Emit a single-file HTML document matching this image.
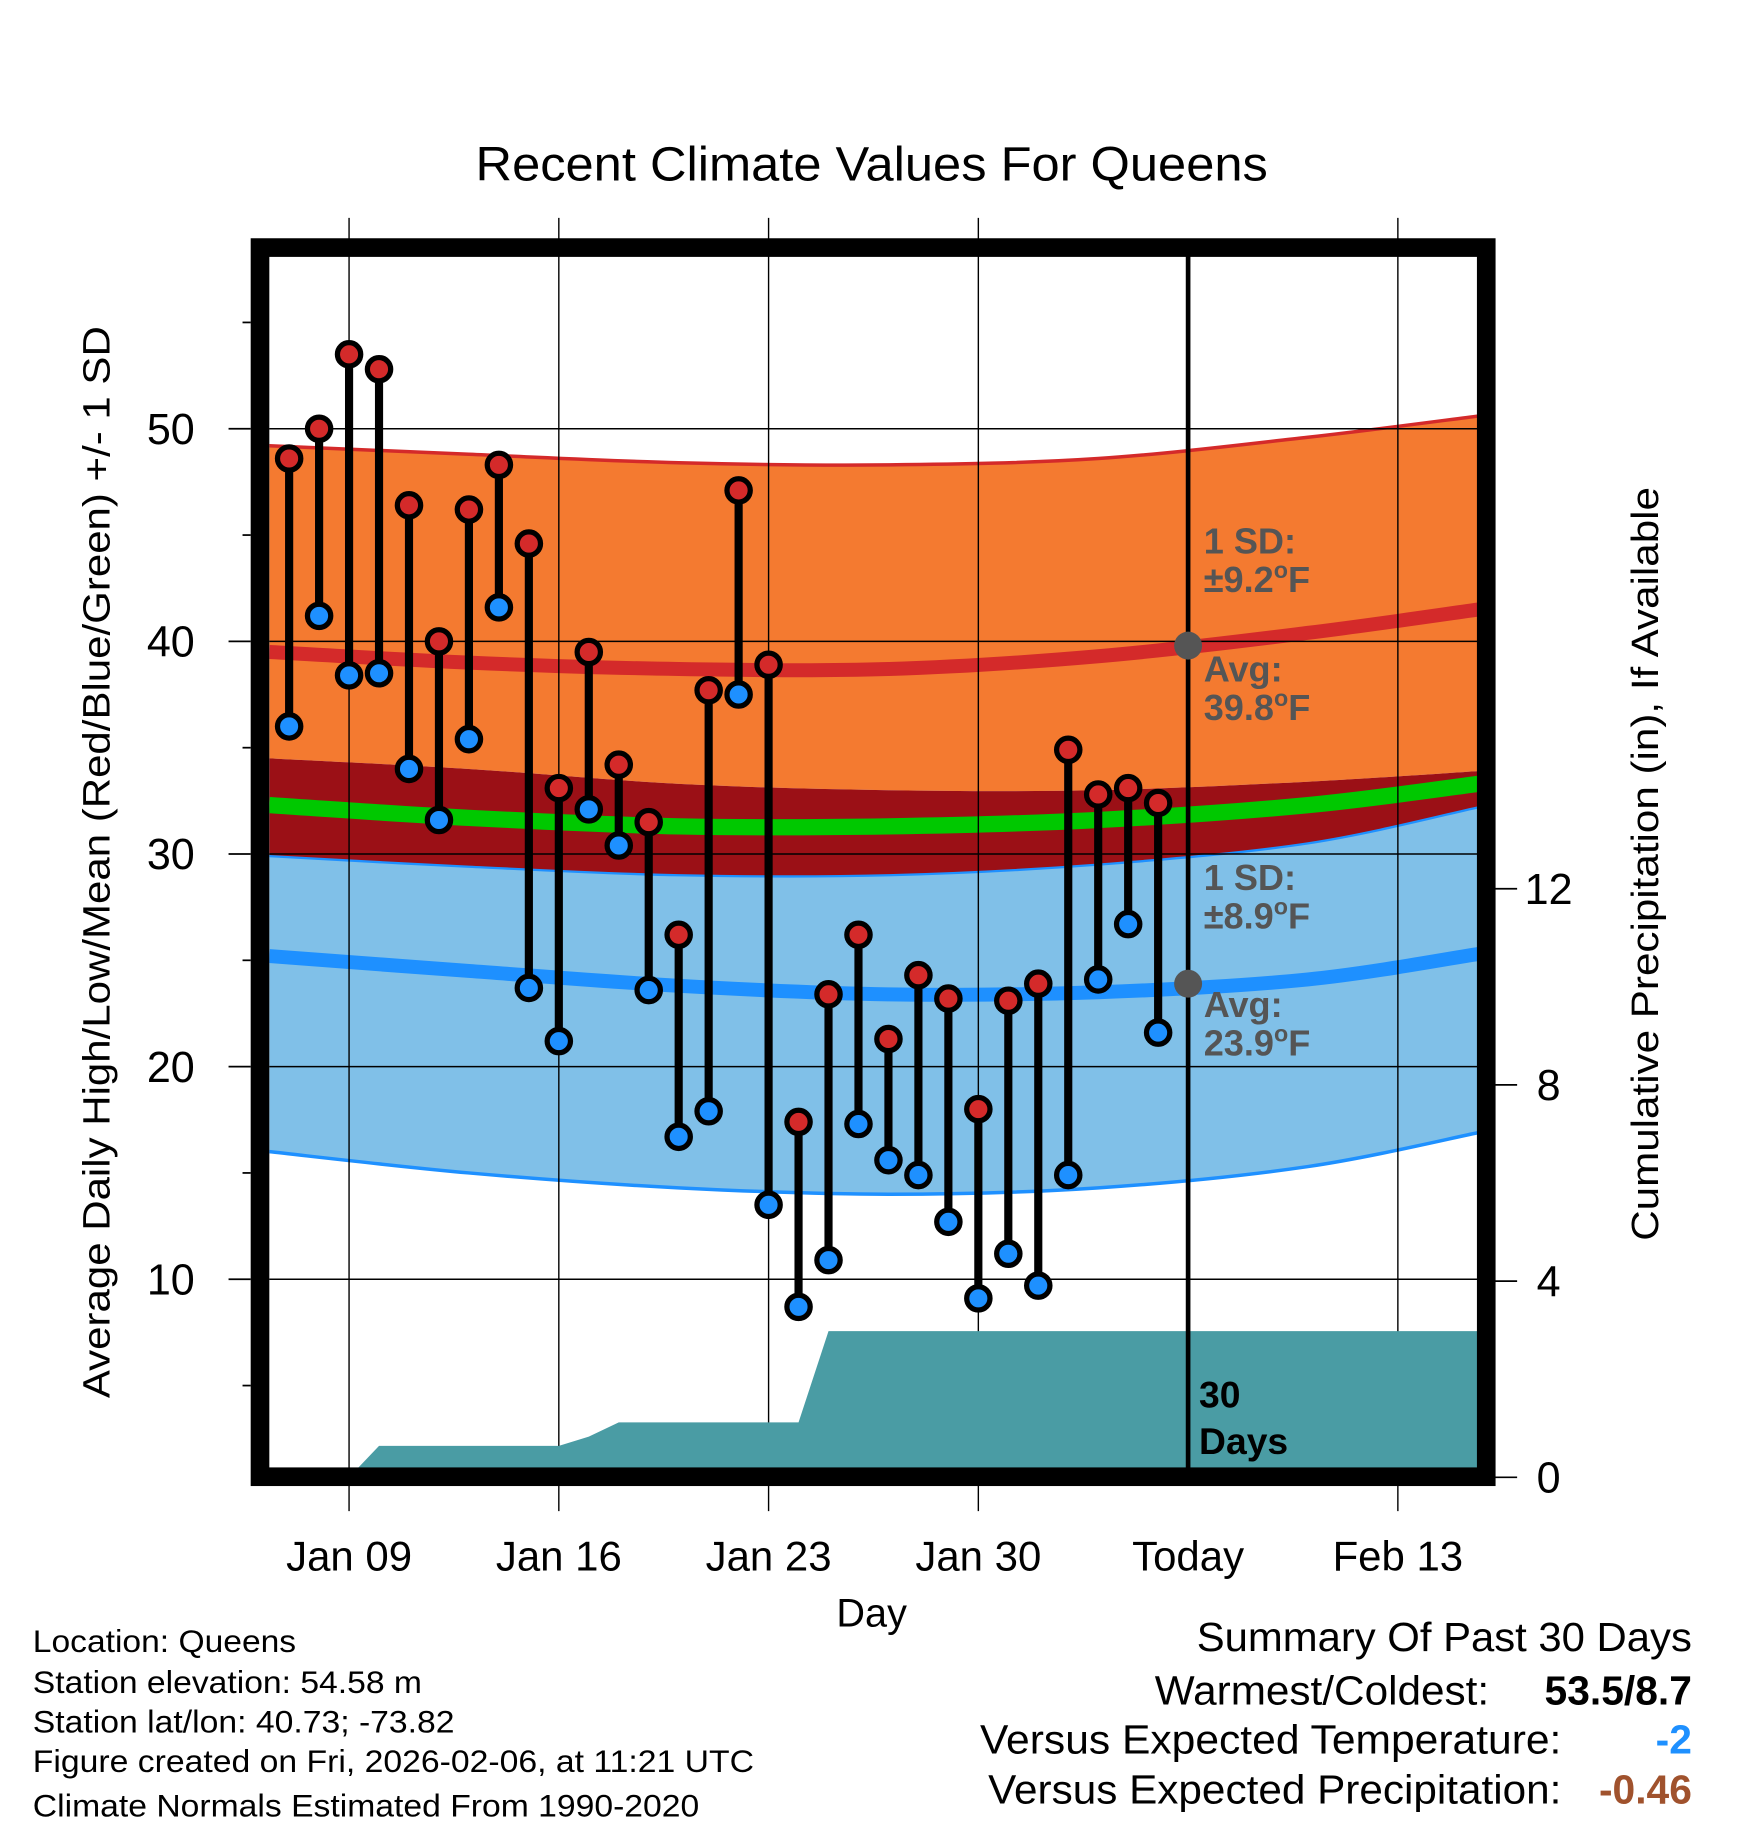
<!DOCTYPE html>
<html><head><meta charset="utf-8"><style>
html,body{margin:0;padding:0;background:#fff}
svg{display:block;font-family:"Liberation Sans",sans-serif}
</style></head><body>
<svg id="chart" width="1748" height="1828" viewBox="0 0 1500 1569" xmlns="http://www.w3.org/2000/svg">
<rect width="1500" height="1569" fill="#fff"/>
<text x="408" y="155" font-size="41" textLength="680" lengthAdjust="spacingAndGlyphs">Recent Climate Values For Queens</text>
<defs><clipPath id="plotclip"><rect x="231" y="220" width="1037" height="1040"/></clipPath></defs>
<g id="bands" clip-path="url(#plotclip)"></g>
<g id="grid"></g>
<g id="precip" clip-path="url(#plotclip)"></g>
<g id="marks"></g>
<g id="axes"></g>
<text transform="translate(94,1200) rotate(-90)" font-size="33" textLength="920" lengthAdjust="spacingAndGlyphs">Average Daily High/Low/Mean (Red/Blue/Green) +/- 1 SD</text>
<text transform="translate(1423,1065) rotate(-90)" font-size="33" textLength="647" lengthAdjust="spacingAndGlyphs">Cumulative Precipitation (in), If Available</text>
<text x="748" y="1396" font-size="34" text-anchor="middle">Day</text>
<g font-size="27">
<text x="28" y="1418" textLength="226" lengthAdjust="spacingAndGlyphs">Location: Queens</text>
<text x="28" y="1453" textLength="334" lengthAdjust="spacingAndGlyphs">Station elevation: 54.58 m</text>
<text x="28" y="1487" textLength="362" lengthAdjust="spacingAndGlyphs">Station lat/lon: 40.73; -73.82</text>
<text x="28" y="1521" textLength="619" lengthAdjust="spacingAndGlyphs">Figure created on Fri, 2026-02-06, at 11:21 UTC</text>
<text x="28" y="1559" textLength="572" lengthAdjust="spacingAndGlyphs">Climate Normals Estimated From 1990-2020</text>
</g>
<g font-size="35">
<text x="1027" y="1417" textLength="425" lengthAdjust="spacingAndGlyphs">Summary Of Past 30 Days</text>
<text x="991" y="1463" textLength="287" lengthAdjust="spacingAndGlyphs">Warmest/Coldest:</text>
<text x="1452" y="1463" text-anchor="end" font-weight="bold">53.5/8.7</text>
<text x="841" y="1505" textLength="499" lengthAdjust="spacingAndGlyphs">Versus Expected Temperature:</text>
<text x="1452" y="1505" text-anchor="end" font-weight="bold" fill="#1e90ff">-2</text>
<text x="848" y="1548" textLength="492" lengthAdjust="spacingAndGlyphs">Versus Expected Precipitation:</text>
<text x="1452" y="1548" text-anchor="end" font-weight="bold" fill="#a0522d">-0.46</text>
</g>
</svg>
<script>
const highs=[48.6,50.0,53.5,52.8,46.4,40.0,46.2,48.3,44.6,33.1,39.5,34.2,31.5,26.2,37.7,47.1,38.9,17.4,23.4,26.2,21.3,24.3,23.2,18.0,23.1,23.9,34.9,32.8,33.1,32.4];
const lows=[36.0,41.2,38.4,38.5,34.0,31.6,35.4,41.6,23.7,21.2,32.1,30.4,23.6,16.7,17.9,37.5,13.5,8.7,10.9,17.3,15.6,14.9,12.7,9.1,11.2,9.7,14.9,24.1,26.7,21.6];
const precipCum=[0,0,0,0.64,0.64,0.64,0.64,0.64,0.64,0.64,0.83,1.12,1.12,1.12,1.12,1.12,1.12,1.12,2.98,2.98,2.98,2.98,2.98,2.98,2.98,2.98,2.98,2.98,2.98,2.98];
const normDays=[-0.66,6,13,20,27,34,39.7];
const highUpper=[49.2,48.8,48.4,48.3,48.6,49.6,50.6];
const highAvg=[39.5,39.0,38.7,38.7,39.3,40.4,41.5];
const highLower=[34.5,34.0,33.3,33.0,33.0,33.4,33.9];
const meanAvg=[32.3,31.7,31.3,31.3,31.6,32.3,33.3];
const lowUpper=[29.9,29.4,29.0,29.0,29.5,30.5,32.2];
const lowAvg=[25.2,24.5,23.8,23.4,23.5,24.1,25.3];
const lowLower=[16.0,15.0,14.3,14.0,14.3,15.3,16.9];
const yTicks=[10,20,30,40,50];
const y2Ticks=[0,4,8,12];
const xTickDays=[2,9,16,23,30,37];
const xTickLabels=["Jan 09","Jan 16","Jan 23","Jan 30","Today","Feb 13"];

const NS="http://www.w3.org/2000/svg";
const X=d=>248+d*25.72;
const Y=v=>368+(50-v)*18.25;
const Y2=p=>1268-p*42.1;
function mk(tag,attrs,parent){const e=document.createElementNS(NS,tag);for(const k in attrs)e.setAttribute(k,attrs[k]);parent.appendChild(e);return e;}
function smoothPts(ds,vs){const p=ds.map((d,i)=>[X(d),Y(vs[i])]);let s="";
 for(let i=0;i<p.length-1;i++){const p0=p[Math.max(i-1,0)],p1=p[i],p2=p[i+1],p3=p[Math.min(i+2,p.length-1)];
  const c1=[p1[0]+(p2[0]-p0[0])/6,p1[1]+(p2[1]-p0[1])/6],c2=[p2[0]-(p3[0]-p1[0])/6,p2[1]-(p3[1]-p1[1])/6];
  s+=(i==0?"M"+p1[0]+","+p1[1]:"")+"C"+c1+" "+c2+" "+p2;}
 return s;}
function revPath(ds,vs){return smoothPts(ds.slice().reverse(),vs.slice().reverse()).replace(/^M/,"L");}
const bands=document.getElementById('bands');
function band(up,lo,fill,name){const e=mk('path',{d:smoothPts(normDays,up)+revPath(normDays,lo)+"Z",fill:fill},bands);
 }
function line(vs,col,w,name){const e=mk('path',{d:smoothPts(normDays,vs),fill:'none',stroke:col,'stroke-width':w},bands);
 }
band(highUpper,highLower,'#f47a30','high-sd-band');
band(highLower,lowUpper,'#9b1016','mean-band');
band(lowUpper,lowLower,'#80c0e8','low-sd-band');
line(highUpper,'#d42a2a',3,'high-upper-line');
line(lowLower,'#1e90ff',3,'low-lower-line');
line(lowUpper,'#1e90ff',2,'low-upper-line');
line(highAvg,'#d42a2a',12,'high-avg-line');
line(meanAvg,'#00c800',14,'mean-avg-line');
line(lowAvg,'#1e90ff',12,'low-avg-line');

const grid=document.getElementById('grid');
yTicks.forEach(v=>{const e=mk('line',{x1:231,x2:1268,y1:Y(v),y2:Y(v),stroke:'#000','stroke-width':1.2},grid);
 });
xTickDays.forEach((d,i)=>{if(xTickLabels[i]==="Today")return;const e=mk('line',{x1:X(d),x2:X(d),y1:187,y2:1297,stroke:'#000','stroke-width':1.2},grid);
 });

const pr=document.getElementById('precip');
let pd="M"+X(0)+",1262";precipCum.forEach((p,i)=>{pd+="L"+X(i)+","+Y2(p);});
pd+="L1268,"+Y2(precipCum[precipCum.length-1])+"L1268,1262Z";
const pp=mk('path',{d:pd,fill:'#4a9ca4'},pr);


const marks=document.getElementById('marks');
const tl=mk('line',{x1:X(30),x2:X(30),y1:220,y2:1262,stroke:'#000','stroke-width':4},marks);

[[Y(39.8),'high-avg-dot'],[Y(23.9),'low-avg-dot']].forEach(([y,n])=>{const c=mk('circle',{cx:X(30),cy:y,r:12,fill:'#555'},marks);
 });
highs.forEach((h,i)=>{
 const s=mk('line',{x1:X(i),x2:X(i),y1:Y(h),y2:Y(lows[i]),stroke:'#000','stroke-width':7},marks);
 
 const a=mk('circle',{cx:X(i),cy:Y(h),r:10,fill:'#d42a2a',stroke:'#000','stroke-width':4.5},marks);
 
 const b=mk('circle',{cx:X(i),cy:Y(lows[i]),r:10,fill:'#1e90ff',stroke:'#000','stroke-width':4.5},marks);
 
});
const ann=[["1 SD:",475,0],["±9.2",508,1],["Avg:",585,0],["39.8",618,1],["1 SD:",764,0],["±8.9",797,1],["Avg:",873,0],["23.9",906,1]];
ann.forEach(([t,y,deg])=>{const e=mk('text',{x:1033,y:y,'font-size':31,'font-weight':'bold',fill:'#555'},marks);e.textContent=t;
 if(deg){const s1=mk('tspan',{dy:-12,'font-size':20},e);s1.textContent="o";const s2=mk('tspan',{dy:12},e);s2.textContent="F";}
 });
[["30",1208],["Days",1248]].forEach(([t,y])=>{const e=mk('text',{x:1029,y:y,'font-size':32,'font-weight':'bold'},marks);e.textContent=t;
 });

const ax=document.getElementById('axes');
const fr=mk('rect',{x:223,y:212.5,width:1052.5,height:1055,fill:'none',stroke:'#000','stroke-width':16},ax);

for(let v=5;v<=55;v+=5){const major=v%10===0;const e=mk('line',{x1:major?196:208,x2:215,y1:Y(v),y2:Y(v),stroke:'#000','stroke-width':1.5},ax);
 }
yTicks.forEach(v=>{const t=mk('text',{x:167,y:Y(v)+13,'font-size':37,'text-anchor':'end'},ax);t.textContent=v;
 });
y2Ticks.forEach(p=>{const e=mk('line',{x1:1283,x2:1302,y1:Y2(p),y2:Y2(p),stroke:'#000','stroke-width':1.5},ax);
 
 const t=mk('text',{x:1329,y:Y2(p)+13,'font-size':37,'text-anchor':'middle'},ax);t.textContent=p;
 });
xTickDays.forEach((d,i)=>{const t=mk('text',{x:X(d),y:1348,'font-size':36,'text-anchor':'middle'},ax);t.textContent=xTickLabels[i];
 });
</script>
</body></html>
